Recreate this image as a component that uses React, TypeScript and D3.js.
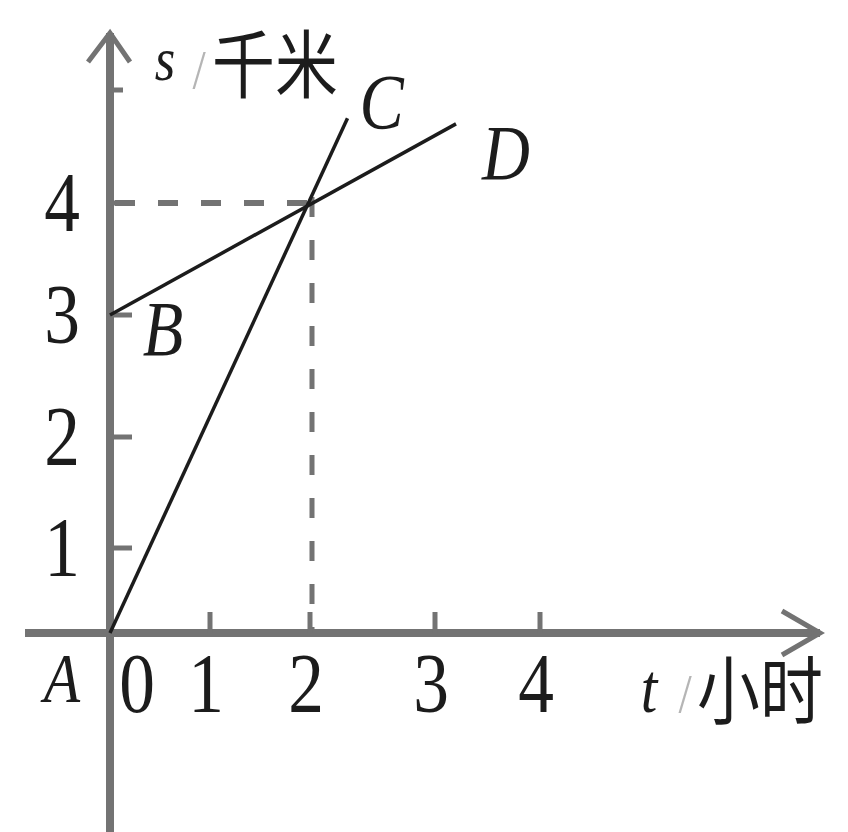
import * as d3 from "d3";

// tick values and labels
const xTickValues = [1, 2, 3, 4];
const xTickLabels = ["0", "1", "2", "3", "4"];
const yTickValues = [1, 2, 3, 4, 5];
const yTickLabels = ["1", "2", "3", "4"];

// the two distance-time lines (t in hours, s in km)
const lineC: [number, number][] = [
  [0, 0],
  [2.3, 4.75],
];
const lineD: [number, number][] = [
  [0, 3],
  [3.2, 4.7],
];
const meetPoint: [number, number] = [2, 4];

const W = 848;
const H = 832;
const axisColor = "#737373";
const ink = "#1c1c1c";
const serif = "'Liberation Serif', 'Times New Roman', serif";
const cjk = "'Noto Sans CJK SC', 'Noto Sans', sans-serif";
const squeeze = 0.85;

export default function App() {
  // the scanned grid is not quite even, so the scales are piecewise
  const x = d3
    .scaleLinear()
    .domain([0, 1, 2, 3, 4])
    .range([110, 210, 310, 435, 540]);
  const y = d3
    .scaleLinear()
    .domain([0, 1, 2, 3, 4, 5])
    .range([633, 548, 437, 315, 203, 90]);

  const line = d3
    .line<[number, number]>()
    .x((d) => x(d[0]))
    .y((d) => y(d[1]));

  const x0 = x(0);
  const y0 = y(0);
  const xEnd = 820;
  const yTop = 33;

  const txt = (
    px: number,
    py: number,
    s: string,
    size: number,
    opts: { italic?: boolean; anchor?: string; family?: string; fill?: string } = {}
  ) => (
    <text
      transform={`translate(${px},${py}) scale(${squeeze},1)`}
      textAnchor={opts.anchor || "middle"}
      fontFamily={opts.family || serif}
      fontStyle={opts.italic ? "italic" : "normal"}
      fontSize={size}
      fill={opts.fill || ink}
    >
      {s}
    </text>
  );

  return (
    <svg
      width={W}
      height={H}
      style={{ position: "absolute", left: 0, top: 0, background: "#fff" }}
    >
      {/* dashed guides to the meeting point */}
      <line
        x1={x(meetPoint[0]) - 3}
        y1={y(meetPoint[1])}
        x2={x0}
        y2={y(meetPoint[1])}
        stroke={axisColor}
        strokeWidth={6}
        strokeDasharray="20 23"
      />
      <line
        x1={x(meetPoint[0]) + 2}
        y1={y(meetPoint[1]) - 6}
        x2={x(meetPoint[0]) + 2}
        y2={y0}
        stroke={axisColor}
        strokeWidth={5}
        strokeDasharray="20 23"
      />

      {/* axes */}
      <line x1={25} y1={y0} x2={xEnd} y2={y0} stroke={axisColor} strokeWidth={8} />
      <path
        d={`M${xEnd - 38},${y0 - 22}L${xEnd},${y0}L${xEnd - 38},${y0 + 22}`}
        fill="none"
        stroke={axisColor}
        strokeWidth={5}
      />
      <line x1={x0} y1={H} x2={x0} y2={yTop} stroke={axisColor} strokeWidth={8} />
      <path
        d={`M${x0 - 22},${yTop + 29}L${x0},${yTop}L${x0 + 20},${yTop + 29}`}
        fill="none"
        stroke={axisColor}
        strokeWidth={5}
      />

      {/* ticks */}
      {xTickValues.map((v) => (
        <line
          key={`xt${v}`}
          x1={x(v)}
          x2={x(v)}
          y1={y0}
          y2={y0 - 21}
          stroke={axisColor}
          strokeWidth={5}
        />
      ))}
      {yTickValues.map((v) => (
        <line
          key={`yt${v}`}
          x1={x0}
          x2={x0 + (v === 5 ? 13 : 22)}
          y1={y(v)}
          y2={y(v)}
          stroke={axisColor}
          strokeWidth={5}
        />
      ))}

      {/* tick labels */}
      {xTickLabels.map((s, i) => (
        <g key={`xl${s}`}>{txt(i === 0 ? x(0) + 27 : x(i) - 4, 712, s, 84)}</g>
      ))}
      {yTickLabels.map((s, i) => (
        <g key={`yl${s}`}>{txt(62, y(i + 1) + 28, s, 84)}</g>
      ))}

      {/* the two lines */}
      <path d={line(lineC) || ""} fill="none" stroke={ink} strokeWidth={3.5} />
      <path d={line(lineD) || ""} fill="none" stroke={ink} strokeWidth={3.5} />

      {/* point names */}
      {txt(62, 702, "A", 70, { italic: true })}
      {txt(x(lineD[0][0]) + 53, y(lineD[0][1]) + 40, "B", 78, { italic: true })}
      {txt(x(lineC[1][0]) + 34, y(lineC[1][1]) + 10, "C", 78, { italic: true })}
      {txt(x(lineD[1][0]) + 50, y(lineD[1][1]) + 55, "D", 78, { italic: true })}

      {/* axis titles */}
      {txt(165, 80, "s", 62, { italic: true })}
      {txt(199, 88, "/", 56, { fill: "#b5b5b5" })}
      {txt(212, 92, "千米", 74, { anchor: "start", family: cjk })}
      {txt(649, 712, "t", 70, { italic: true })}
      {txt(685, 712, "/", 56, { fill: "#b5b5b5" })}
      {txt(697, 718, "小时", 74, { anchor: "start", family: cjk })}
    </svg>
  );
}
